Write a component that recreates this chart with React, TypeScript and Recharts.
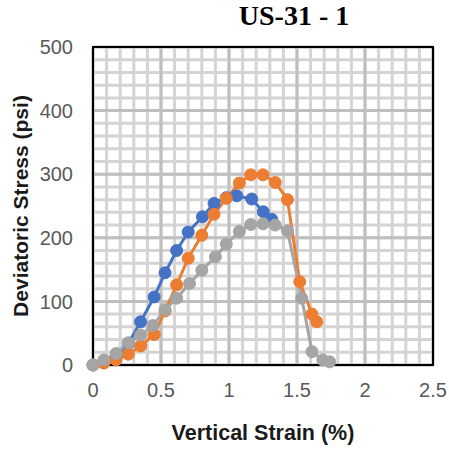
import React from 'react';
import { LineChart, Line, XAxis, YAxis, CartesianGrid, ReferenceArea } from 'recharts';

// strain (%) and deviatoric stress (psi)
const BLUE_X = [0, 0.08, 0.17, 0.26, 0.35, 0.45, 0.53, 0.615, 0.7, 0.805, 0.89, 0.98, 1.057, 1.167, 1.252, 1.314];
const BLUE_Y = [0, 4, 12, 34, 68, 107, 145, 180, 209, 233, 254, 263, 266, 261, 241, 229];

const ORANGE_X = [0, 0.08, 0.17, 0.26, 0.35, 0.45, 0.53, 0.615, 0.7, 0.8, 0.89, 0.98, 1.076, 1.16, 1.25, 1.34, 1.43, 1.52, 1.61, 1.645];
const ORANGE_Y = [0, 3, 8, 17, 30, 48, 85, 126, 168, 204, 237, 262, 286, 299, 299, 287, 260, 131, 80, 68];

const GRAY_X = [0, 0.08, 0.17, 0.26, 0.35, 0.44, 0.53, 0.615, 0.71, 0.8, 0.9, 0.98, 1.076, 1.16, 1.25, 1.34, 1.43, 1.535, 1.61, 1.69, 1.74];
const GRAY_Y = [0, 8, 18, 35, 47, 62, 87, 105, 128, 149, 170, 190, 210, 221, 222, 220, 211, 105, 21, 8, 5];

const X_TICKS = [0, 0.5, 1, 1.5, 2, 2.5];
const Y_TICKS = [0, 100, 200, 300, 400, 500];
const MINOR_X = Array.from({ length: 26 }, (_, i) => i / 10);
const MINOR_Y = Array.from({ length: 26 }, (_, i) => i * 20);

const toRows = (xs: number[], ys: number[]) => xs.map((x, i) => ({ x, y: ys[i] }));

const SERIES = [
  { name: 'blue', color: '#4472C4', data: toRows(BLUE_X, BLUE_Y) },
  { name: 'orange', color: '#ED7D31', data: toRows(ORANGE_X, ORANGE_Y) },
  { name: 'gray', color: '#A5A5A5', data: toRows(GRAY_X, GRAY_Y) },
];

const tickStyle = { fill: '#595959', fontSize: 20, fontFamily: 'Liberation Sans, Arial, sans-serif' };
const titleFont = 'Liberation Sans, Arial, sans-serif';

// minor grid: map values through the axis scale when available
const gridX = ({ xAxis, offset }: any) =>
  MINOR_X.map((v) => (xAxis && typeof xAxis.scale === 'function' ? xAxis.scale(v) : offset.left + (v / 2.5) * offset.width));
const gridY = ({ yAxis, offset }: any) =>
  MINOR_Y.map((v) => (yAxis && typeof yAxis.scale === 'function' ? yAxis.scale(v) : offset.top + (1 - v / 500) * offset.height));

export default function App() {
  return (
    <div style={{ position: 'absolute', left: 0, top: 0, width: 449, height: 454, background: '#fff' }}>
      <LineChart width={449} height={454} margin={{ top: 47, right: 16, left: 0, bottom: 0 }}>
        <CartesianGrid
          stroke="#d4d4d4"
          strokeWidth={3}
          verticalCoordinatesGenerator={gridX}
          horizontalCoordinatesGenerator={gridY}
        />
        <CartesianGrid stroke="#bfbfbf" strokeWidth={3} />
        <XAxis
          type="number"
          dataKey="x"
          domain={[0, 2.5]}
          ticks={X_TICKS}
          height={89}
          tickLine={false}
          tickSize={0}
          tickMargin={18}
          axisLine={{ stroke: '#000', strokeWidth: 2 }}
          tick={tickStyle}
          allowDuplicatedCategory={false}
        />
        <YAxis
          type="number"
          domain={[0, 500]}
          ticks={Y_TICKS}
          width={93}
          tickLine={false}
          tickSize={0}
          tickMargin={20}
          axisLine={{ stroke: '#000', strokeWidth: 2 }}
          tick={tickStyle}
        />
        <ReferenceArea x1={0} x2={2.5} y1={0} y2={500} fill="none" stroke="#000" strokeWidth={2} />
        {SERIES.map((s) => (
          <Line
            key={s.name}
            data={s.data}
            dataKey="y"
            type="linear"
            stroke={s.color}
            strokeWidth={3}
            dot={{ r: 6, fill: s.color, stroke: s.color, strokeWidth: 1 }}
            isAnimationActive={false}
          />
        ))}
        <text x={294} y={25} textAnchor="middle" fontFamily="Liberation Serif, Times New Roman, serif" fontWeight="bold" fontSize={28} fill="#000">
          US-31 - 1
        </text>
        <text x={263} y={440} textAnchor="middle" fontFamily={titleFont} fontWeight="bold" fontSize={21.5} fill="#1a1a1a">
          Vertical Strain (%)
        </text>
        <text x={28} y={206} textAnchor="middle" fontFamily={titleFont} fontWeight="bold" fontSize={21} fill="#1a1a1a" transform="rotate(-90 28 206)">
          Deviatoric Stress (psi)
        </text>
      </LineChart>
    </div>
  );
}
